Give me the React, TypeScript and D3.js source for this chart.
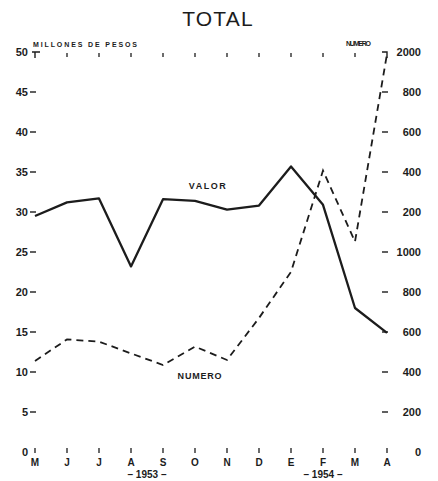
import React from "react";
import * as d3 from "d3";

const months = ["M", "J", "J", "A", "S", "O", "N", "D", "E", "F", "M", "A"];
const valor = [29.5, 31.2, 31.7, 23.2, 31.6, 31.4, 30.3, 30.8, 35.7, 30.9, 18.0, 14.9];
const numero = [455, 563, 552, 493, 435, 527, 460, 670, 901, 1407, 1052, 1990];
const leftTicks = [0, 5, 10, 15, 20, 25, 30, 35, 40, 45, 50];
const rightTicks = [0, 200, 400, 600, 800, 1000, 1200, 1400, 1600, 1800, 2000];
const rightTickLabels = ["0", "200", "400", "600", "800", "1000", "200", "400", "600", "800", "2000"];
const years = [
  { label: "– 1953 –", at: 3.5 },
  { label: "– 1954 –", at: 9 },
];

const INK = "#1c1c1c";
const FONT = "'Liberation Sans', Arial, sans-serif";

export default function App() {
  const x = d3.scaleLinear().domain([0, months.length - 1]).range([35, 387]);
  const yL = d3.scaleLinear().domain([0, 50]).range([452, 52]);
  const yR = d3.scaleLinear().domain([0, 2000]).range([452, 52]);

  const lineV = d3
    .line<number>()
    .x((_, i) => x(i))
    .y((d) => yL(d));
  const lineN = d3
    .line<number>()
    .x((_, i) => x(i))
    .y((d) => yR(d));

  const x0 = x(0);
  const x1 = x(months.length - 1);

  return (
    <svg
      width={438}
      height={481}
      style={{ position: "absolute", left: 0, top: 0, background: "#fff" }}
      fontFamily={FONT}
    >
      <rect width={438} height={481} fill="#fff" />
      {/* title */}
      <text x={218} y={26} textAnchor="middle" fontSize={21} fill={INK} letterSpacing={1.2}>
        TOTAL
      </text>

      {/* axis captions */}
      <text x={33} y={47} fontSize={7} fontWeight="bold" fill={INK} textLength={104} lengthAdjust="spacing">
        MILLONES DE PESOS
      </text>
      <text x={346} y={46} fontSize={7} fontWeight="bold" fill={INK} textLength={25} lengthAdjust="spacing">
        NUMERO
      </text>

      {/* corners */}
      <path d={`M${x0 - 3},${yL(50)} H${x0 + 5} M${x0},${yL(50)} V${yL(50) + 6}`} stroke={INK} strokeWidth={1.4} fill="none" />
      <path d={`M${x1 - 5},${yL(50)} H${x1} V${yL(50) + 6}`} stroke={INK} strokeWidth={1.4} fill="none" />

      {/* left ticks */}
      {leftTicks.map((t) => (
        <g key={"l" + t}>
          <text x={28} y={yL(t) + 4} textAnchor="end" fontSize={11} fontWeight="bold" fill={INK}>
            {t}
          </text>
          {t > 0 && t < 50 && (
            <line x1={30} x2={36} y1={yL(t)} y2={yL(t)} stroke={INK} strokeWidth={1.4} />
          )}
        </g>
      ))}

      {/* right ticks */}
      {rightTicks.map((t, i) => (
        <g key={"r" + t}>
          <text x={421} y={yR(t) + 4} textAnchor="end" fontSize={11} fontWeight="bold" fill={INK}>
            {rightTickLabels[i]}
          </text>
          {t > 0 && t < 2000 && (
            <line x1={382} x2={388} y1={yR(t)} y2={yR(t)} stroke={INK} strokeWidth={1.4} />
          )}
        </g>
      ))}

      {/* month ticks & labels */}
      {months.map((m, i) => (
        <g key={"m" + i}>
          {i > 0 && i < months.length - 1 && (
            <line x1={x(i)} x2={x(i)} y1={yL(50) + 1} y2={yL(50) + 5} stroke={INK} strokeWidth={1.3} />
          )}
          <line x1={x(i)} x2={x(i)} y1={yL(0) - 4} y2={yL(0) + 1} stroke={INK} strokeWidth={1.3} />
          <text x={x(i)} y={466} textAnchor="middle" fontSize={10} fontWeight="bold" fill={INK}>
            {m}
          </text>
        </g>
      ))}
      {years.map((yy) => (
        <text key={yy.label} x={x(yy.at)} y={478} textAnchor="middle" fontSize={10} fontWeight="bold" fill={INK}>
          {yy.label}
        </text>
      ))}

      {/* series */}
      <path d={lineV(valor) || ""} fill="none" stroke={INK} strokeWidth={2.3} strokeLinejoin="round" />
      <path d={lineN(numero) || ""} fill="none" stroke={INK} strokeWidth={1.8} strokeDasharray="7 5" />

      {/* series labels */}
      <text x={208} y={189} textAnchor="middle" fontSize={9} fontWeight="bold" fill={INK} letterSpacing={1.5}>
        VALOR
      </text>
      <text x={200} y={379} textAnchor="middle" fontSize={9} fontWeight="bold" fill={INK} letterSpacing={0.8}>
        NUMERO
      </text>
    </svg>
  );
}
